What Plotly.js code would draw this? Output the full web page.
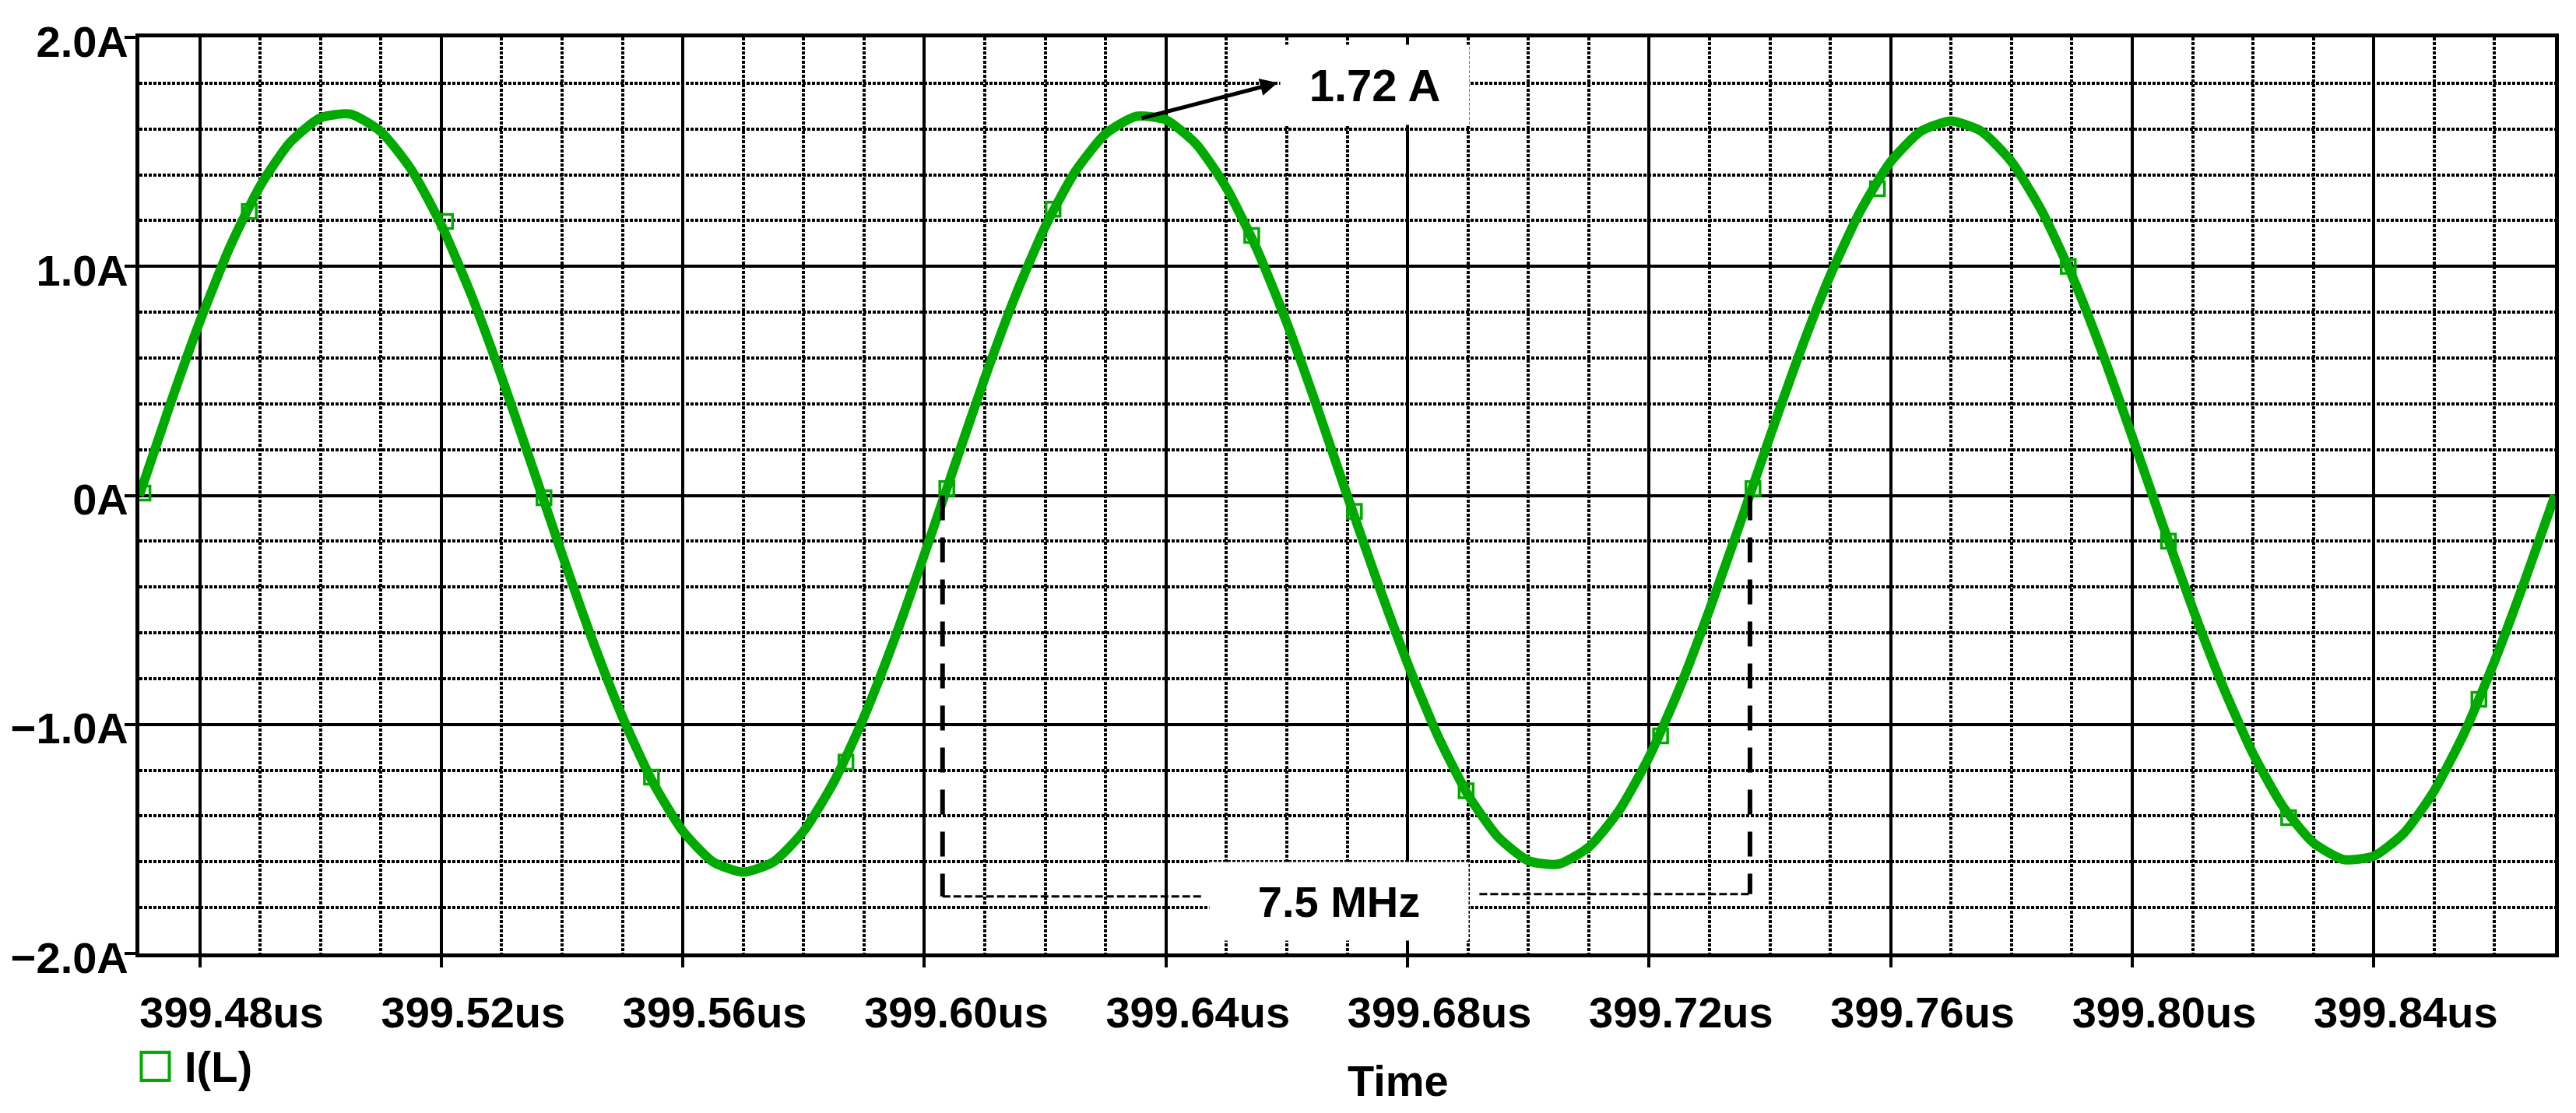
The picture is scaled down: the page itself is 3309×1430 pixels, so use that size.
<!DOCTYPE html>
<html>
<head>
<meta charset="utf-8">
<script src="https://cdn.plot.ly/plotly-3.0.1.min.js"></script>
<style>
  html, body { margin: 0; padding: 0; background: #ffffff; }
  #chart { width: 3309px; height: 1430px; }
</style>
</head>
<body>
<div id="chart"></div>
<script>
// ---- data ----
const timeUs = [
  399.470, 399.475, 399.480, 399.485, 399.490, 399.495, 399.500, 399.505, 399.510, 399.515,
  399.520, 399.525, 399.530, 399.535, 399.540, 399.545, 399.550, 399.555, 399.560, 399.565,
  399.570, 399.575, 399.580, 399.585, 399.590, 399.595, 399.600, 399.605, 399.610, 399.615,
  399.620, 399.625, 399.630, 399.635, 399.640, 399.645, 399.650, 399.655, 399.660, 399.665,
  399.670, 399.675, 399.680, 399.685, 399.690, 399.695, 399.700, 399.705, 399.710, 399.715,
  399.720, 399.725, 399.730, 399.735, 399.740, 399.745, 399.750, 399.755, 399.760, 399.765,
  399.770, 399.775, 399.780, 399.785, 399.790, 399.795, 399.800, 399.805, 399.810, 399.815,
  399.820, 399.825, 399.830, 399.835, 399.840, 399.845, 399.850, 399.855, 399.860, 399.865,
  399.870
];
const currentA = [
  0.000, 0.390, 0.758, 1.085, 1.351, 1.543, 1.649, 1.665, 1.588, 1.424,
  1.181, 0.873, 0.516, 0.131, -0.257, -0.630, -0.967, -1.251, -1.466, -1.600,
  -1.645, -1.600, -1.466, -1.251, -0.967, -0.630, -0.257, 0.130, 0.513, 0.867,
  1.174, 1.415, 1.579, 1.655, 1.640, 1.534, 1.343, 1.078, 0.754, 0.387,
  0.000, -0.377, -0.733, -1.049, -1.307, -1.492, -1.595, -1.610, -1.536, -1.377,
  -1.142, -0.844, -0.499, -0.127, 0.256, 0.626, 0.961, 1.243, 1.457, 1.590,
  1.635, 1.590, 1.457, 1.243, 0.961, 0.626, 0.256, -0.125, -0.493, -0.833,
  -1.128, -1.360, -1.517, -1.590, -1.575, -1.474, -1.290, -1.036, -0.724, -0.372,
  0.000
];
// trace symbol positions (PSpice markers)
const markerTime = [399.4706, 399.4882, 399.5207, 399.5370, 399.5548, 399.5870, 399.6037, 399.6213,
  399.6542, 399.6712, 399.6897, 399.7219, 399.7372, 399.7578, 399.7894, 399.8060, 399.8259, 399.8574];
const markerValue = [0.01, 1.24, 1.196, -0.01, -1.23, -1.165, 0.03, 1.25,
  1.135, -0.07, -1.29, -1.05, 0.03, 1.339, 1.0, -0.2, -1.407, -0.89];

const seriesName = 'I(L)';
const xTickVals = [399.48, 399.52, 399.56, 399.60, 399.64, 399.68, 399.72, 399.76, 399.80, 399.84];
const xTickText = ['399.48us', '399.52us', '399.56us', '399.60us', '399.64us', '399.68us', '399.72us', '399.76us', '399.80us', '399.84us'];
const yTickVals = [-2, -1, 0, 1, 2];
const yTickText = ['\u22122.0A', '\u22121.0A', '0A', '1.0A', '2.0A'];
const xTitle = 'Time';
const peakLabel = '1.72 A';
const freqLabel = '7.5 MHz';

// ---- styles ----
const GREEN = '#00aa00';
const FONT = 'Liberation Sans, Arial, Helvetica, sans-serif';

const traces = [
  {
    x: timeUs, y: currentA, type: 'scatter', mode: 'lines', name: seriesName,
    line: { color: GREEN, width: 12, shape: 'spline', smoothing: 0.6 },
    hoverinfo: 'skip', showlegend: false
  },
  {
    x: markerTime, y: markerValue, type: 'scatter', mode: 'markers', name: seriesName,
    marker: { symbol: 'square-open', size: 18, color: GREEN, line: { width: 3.5, color: GREEN } },
    hoverinfo: 'skip', showlegend: false
  }
];

const gridCommon = {
  showgrid: true, gridcolor: '#000000', gridwidth: 4,
  showline: true, linecolor: '#000000', linewidth: 5, mirror: true,
  zeroline: false, ticks: 'outside', tickcolor: '#000000', tickwidth: 4,
  tickfont: { family: FONT, size: 56, color: '#000000', weight: 'bold' }
};

const layout = {
  width: 3309, height: 1430,
  margin: { l: 179, r: 27, t: 48, b: 205, pad: 0 },
  paper_bgcolor: '#ffffff', plot_bgcolor: '#ffffff',
  font: { family: FONT, size: 56, color: '#000000', weight: 'bold' },
  showlegend: false,
  xaxis: Object.assign({}, gridCommon, {
    range: [399.47, 399.87], tickmode: 'array', tickvals: xTickVals, ticktext: xTickText,
    ticklen: 13, ticklabelshift: 41, ticklabelstandoff: 10,
    minor: { tickmode: 'linear', tick0: 399.47, dtick: 0.01, showgrid: true,
             gridcolor: '#000000', gridwidth: 4, griddash: '4px,2px', ticks: '' }
  }),
  yaxis: Object.assign({}, gridCommon, {
    range: [-2, 2], tickmode: 'array', tickvals: yTickVals, ticktext: yTickText,
    ticklen: 14, ticklabelshift: 5, ticklabelstandoff: -16,
    minor: { tickmode: 'linear', tick0: -2, dtick: 0.2, showgrid: true,
             gridcolor: '#000000', gridwidth: 4, griddash: '4px,2px', ticks: '' }
  }),
  shapes: [
    // frequency dimension: vertical thick dashed lines from zero crossings
    { type: 'line', xref: 'x', yref: 'y', x0: 399.6030, x1: 399.6030, y0: 0, y1: -1.751,
      line: { color: '#000000', width: 6, dash: '32px,22px' } },
    { type: 'line', xref: 'x', yref: 'y', x0: 399.7367, x1: 399.7367, y0: 0, y1: -1.741,
      line: { color: '#000000', width: 6, dash: '32px,22px' } },
    // thin horizontal dashed dimension lines
    { type: 'line', xref: 'x', yref: 'y', x0: 399.6030, x1: 399.6460, y0: -1.751, y1: -1.751,
      line: { color: '#000000', width: 3, dash: '10px,4px' } },
    { type: 'line', xref: 'x', yref: 'y', x0: 399.6919, x1: 399.7367, y0: -1.741, y1: -1.741,
      line: { color: '#000000', width: 3, dash: '10px,4px' } },
    // legend symbol
    { type: 'rect', xref: 'paper', yref: 'paper', x0: 0.0008, x1: 0.0124, y0: -0.1078, y1: -0.1384,
      line: { color: GREEN, width: 4 }, fillcolor: 'rgba(0,0,0,0)' }
  ],
  annotations: [
    { xref: 'x', yref: 'y', x: 399.6746, y: 1.792, text: peakLabel, showarrow: false,
      bgcolor: '#ffffff', width: 240, height: 100, valign: 'middle',
      font: { family: FONT, size: 58, color: '#000000', weight: 'bold' } },
    { xref: 'x', yref: 'y', x: 399.6585, y: 1.802, axref: 'x', ayref: 'y', ax: 399.6358, ay: 1.646,
      text: '', showarrow: true, arrowhead: 2, arrowsize: 0.9, arrowwidth: 5, arrowcolor: '#000000' },
    { xref: 'x', yref: 'y', x: 399.6686, y: -1.772, text: freqLabel, showarrow: false,
      bgcolor: '#ffffff', width: 330, height: 98, valign: 'middle',
      font: { family: FONT, size: 56, color: '#000000', weight: 'bold' } },
    { xref: 'paper', yref: 'paper', x: 0.521, y: -0.139, text: xTitle, showarrow: false,
      xanchor: 'center', yanchor: 'middle',
      font: { family: FONT, size: 56, color: '#000000', weight: 'bold' } },
    { xref: 'paper', yref: 'paper', x: 0.018, y: -0.1232, text: seriesName, showarrow: false,
      xanchor: 'left', yanchor: 'middle',
      font: { family: FONT, size: 56, color: '#000000', weight: 'bold' } }
  ]
};

Plotly.newPlot('chart', traces, layout, { staticPlot: true, displayModeBar: false });
</script>
</body>
</html>
